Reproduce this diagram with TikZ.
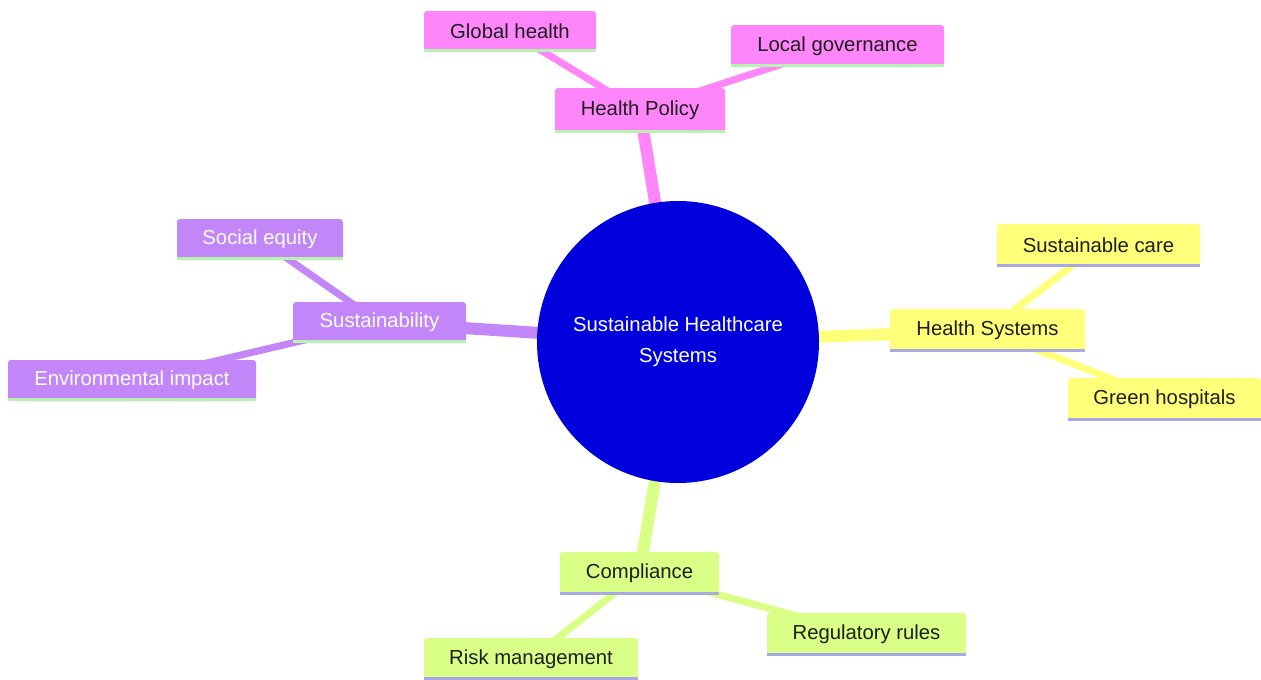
\documentclass[tikz,border=0pt]{standalone}
\usepackage{fontspec}
\setmainfont{Liberation Sans}
\usetikzlibrary{backgrounds}
\pgfdeclarelayer{edges}
\pgfsetlayers{background,edges,main}
\definecolor{cpink}{HTML}{FF86FA}
\definecolor{cpurple}{HTML}{C386F8}
\definecolor{cyellow}{HTML}{FFFF7A}
\definecolor{cgreen}{HTML}{DAFF86}
\definecolor{cblue}{HTML}{0000DD}
\definecolor{ulgreen}{HTML}{B8F2B0}
\definecolor{ullav}{HTML}{A8A8E6}
\definecolor{darktext}{HTML}{1E1E1E}
\begin{document}
\begin{tikzpicture}[x=1pt,y=-1pt,
  box/.style={rounded corners=3pt, inner sep=0pt, font=\fontsize{20.3}{23}\selectfont, text=darktext},
  pinkbox/.style={box, fill=cpink},
  purplebox/.style={box, fill=cpurple, text=white},
  yellowbox/.style={box, fill=cyellow},
  greenbox/.style={box, fill=cgreen},
  mainedge/.style={line width=12pt},
  subedge/.style={line width=7pt},
  underline/.style={line width=3pt}]
\begin{pgfonlayer}{background}
\fill[white] (0,0) rectangle (1261,680);
\end{pgfonlayer}
\useasboundingbox (0,0) rectangle (1261,680);

\node[circle, fill=cblue, minimum size=282pt, inner sep=0pt, text=white, align=center,
  font=\fontsize{20.3}{31}\selectfont] (root) at (678,342) {Sustainable Healthcare\\Systems};

\node[pinkbox, minimum width=170pt, minimum height=45pt] (hp) at (640,110.5) {Health Policy};
\node[pinkbox, minimum width=172pt, minimum height=41pt] (gh) at (510,31.5) {Global health};
\node[pinkbox, minimum width=213pt, minimum height=42pt] (lg) at (837.5,46) {Local governance};

\node[purplebox, minimum width=173pt, minimum height=41pt] (su) at (379.5,322.5) {Sustainability};
\node[purplebox, minimum width=166pt, minimum height=41pt] (se) at (260,239.5) {Social equity};
\node[purplebox, minimum width=248pt, minimum height=41pt] (ei) at (132,380.5) {Environmental impact};

\node[yellowbox, minimum width=195pt, minimum height=43pt] (hs) at (987.5,330.5) {Health Systems};
\node[yellowbox, minimum width=203pt, minimum height=43pt] (sc) at (1098.5,245.5) {Sustainable care};
\node[yellowbox, minimum width=193pt, minimum height=43pt] (gho) at (1164.5,399.5) {Green hospitals};

\node[greenbox, minimum width=159pt, minimum height=43pt] (co) at (639.5,573.5) {Compliance};
\node[greenbox, minimum width=214pt, minimum height=42pt] (rm) at (531,659) {Risk management};
\node[greenbox, minimum width=199pt, minimum height=43pt] (rr) at (866.5,634.5) {Regulatory rules};

\foreach \n/\c in {hp/ulgreen,gh/ulgreen,lg/ulgreen,su/ulgreen,se/ulgreen,ei/ulgreen,
  hs/ullav,sc/ullav,gho/ullav,co/ullav,rm/ullav,rr/ullav}
  \draw[underline, \c] ([yshift=1.5pt]\n.south west) -- ([yshift=1.5pt]\n.south east);

\begin{pgfonlayer}{edges}
\draw[mainedge, cpink] (root.center) -- (hp.center);
\draw[mainedge, cpurple] (root.center) -- (su.center);
\draw[mainedge, cyellow] (root.center) -- (hs.center);
\draw[mainedge, cgreen] (root.center) -- (co.center);
\draw[subedge, cpink] (hp.center) -- (gh.center);
\draw[subedge, cpink] (hp.center) -- (lg.center);
\draw[subedge, cpurple] (su.center) -- (se.center);
\draw[subedge, cpurple] (su.center) -- (ei.center);
\draw[subedge, cyellow] (hs.center) -- (sc.center);
\draw[subedge, cyellow] (hs.center) -- (gho.center);
\draw[subedge, cgreen] (co.center) -- (rm.center);
\draw[subedge, cgreen] (co.center) -- (rr.center);
\end{pgfonlayer}
\end{tikzpicture}
\end{document}
